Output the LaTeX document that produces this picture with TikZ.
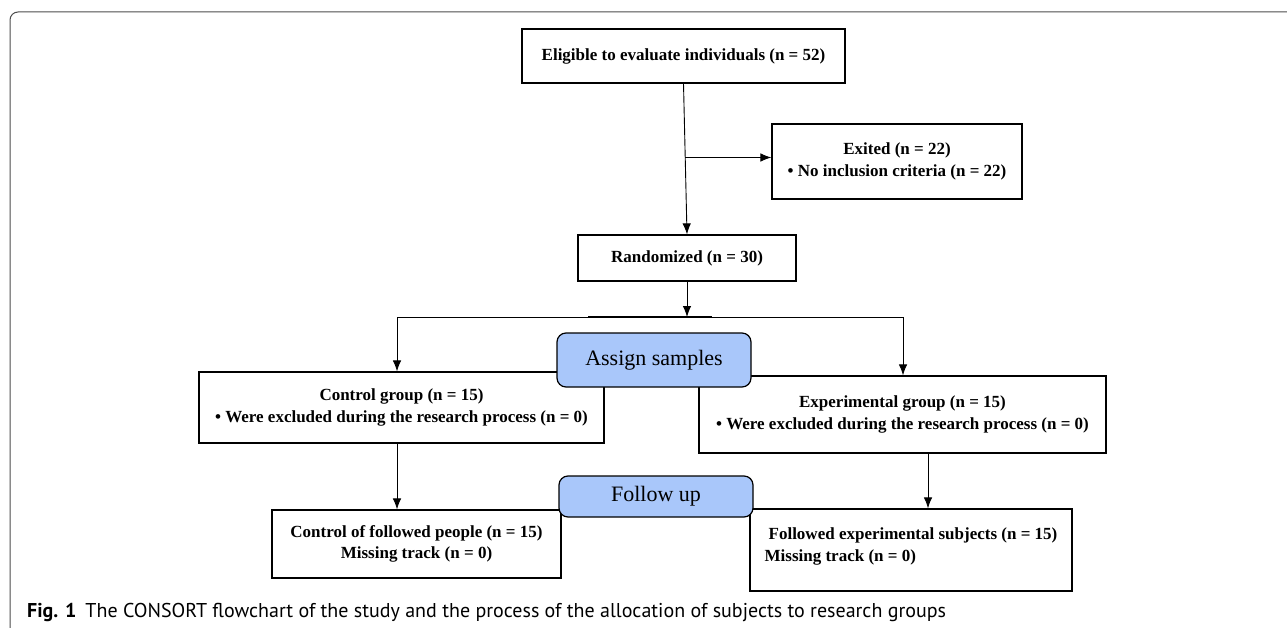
\documentclass[tikz,border=0pt]{standalone}
\usepackage{fontspec}
\setmainfont{Liberation Serif}
\newfontfamily\capfont{PT Sans}
\usetikzlibrary{arrows.meta,calc}
\definecolor{stageblue}{RGB}{169,199,250}
\begin{document}
\begin{tikzpicture}[x=1pt,y=-1pt,>={Latex[length=11pt,width=8.5pt]},
    box/.style={draw,line width=1.2pt,align=center,inner sep=0pt,
        font=\bfseries\fontsize{17}{21.5}\selectfont},
    stage/.style={draw,line width=1.2pt,rounded corners=9pt,fill=stageblue,
        inner sep=0pt,font=\fontsize{22}{26}\selectfont},
    link/.style={->,line width=0.9pt}]
    \useasboundingbox (0,0) rectangle (1287,628);
    \draw[line width=1pt,rounded corners=8pt,black!70] (10,628)--(10,12)--(1287,12);
    % boxes
    \node[box,minimum width=323pt,minimum height=54pt] (elig) at (683.5,56)
        {Eligible to evaluate individuals (n = 52)};
    \node[box,minimum width=250pt,minimum height=75pt] (exit) at (897,161.5)
        {Exited (n = 22)\\• No inclusion criteria (n = 22)};
    \node[box,minimum width=218pt,minimum height=46pt] (rand) at (687,258)
        {Randomized (n = 30)};
    \node[box,minimum width=405pt,minimum height=71pt] (ctrl) at (401.5,407.5)
        {Control group (n = 15)\\• Were excluded during the research process (n = 0)};
    \node[box,minimum width=407pt,minimum height=77pt] (expt) at (902.5,414.5)
        {Experimental group (n = 15)\\• Were excluded during the research process (n = 0)};
    \node[box,minimum width=289pt,minimum height=68pt] (ctrlf) at (416.5,544)
        {Control of followed people (n = 15)\\Missing track (n = 0)};
    \node[box,minimum width=322pt,minimum height=82pt,align=left,
        text depth=11pt] (exptf) at (911,550)
        {\hspace*{4pt}Followed experimental subjects (n = 15)\\Missing track (n = 0)};
    % stages
    \node[stage,minimum width=194pt,minimum height=54pt] (assign) at (654,360) {Assign samples};
    \node[stage,minimum width=194pt,minimum height=41pt] (follow) at (656,496.5) {Follow up};
    % connectors
    \coordinate (branch) at ($(elig.south)!0.49!(rand.north)$);
    \draw[link] (elig.south)--(rand.north);
    \draw[link] (branch)--(branch -| exit.west);
    \coordinate (splitL) at (397,317);
    \coordinate (splitR) at (903,317);
    \coordinate (barL) at (588,317);
    \coordinate (barR) at (712,317);
    \draw[line width=0.9pt] (splitL)--(splitR);
    \draw[line width=2.2pt] (barL)--(barR);
    \draw[link] (rand.south)--(rand.south |- splitL);
    \draw[link] (splitL)--(splitL |- ctrl.north);
    \draw[link] (splitR)--(splitR |- expt.north);
    \draw[link] (splitL |- ctrl.south)--(splitL |- ctrlf.north);
    \draw[link] ([xshift=25.5pt]expt.south)--([xshift=25.5pt]expt.south |- exptf.north);
    % caption
    \node[anchor=west,inner sep=0pt,font=\capfont\fontsize{20}{24}\selectfont] (cap) at (27,612)
        {\textbf{Fig. 1}\hspace{9pt}The CONSORT flowchart of the study and the process of the allocation of subjects to research groups};
\end{tikzpicture}
\end{document}
